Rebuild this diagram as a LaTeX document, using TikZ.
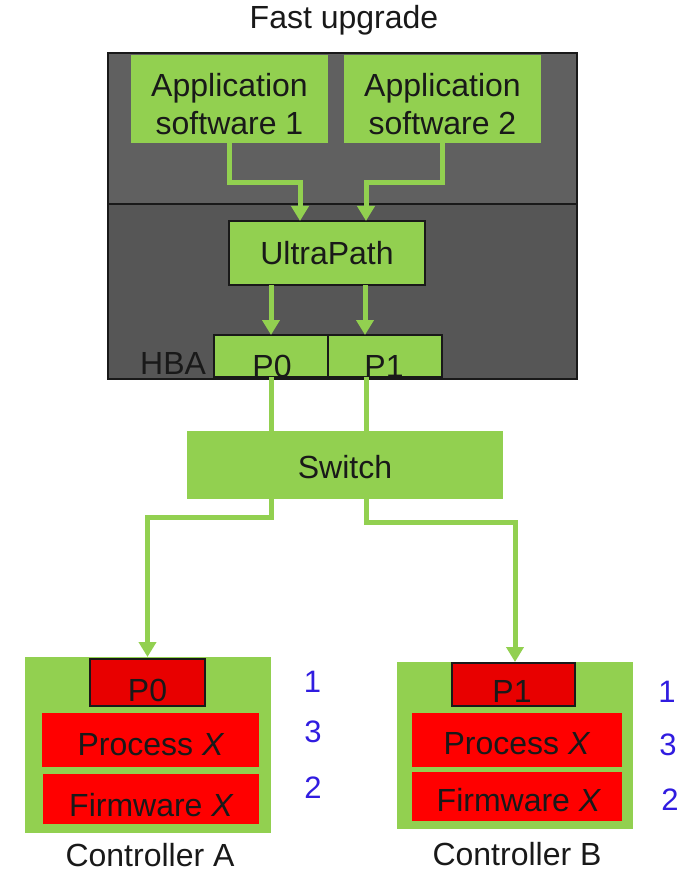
\documentclass[tikz,border=0pt]{standalone}
\usepackage{fontspec}
\setmainfont{Liberation Sans}
\usetikzlibrary{arrows.meta}
\definecolor{gr}{RGB}{146,208,80}
\definecolor{hostA}{RGB}{96,96,96}
\definecolor{hostB}{RGB}{86,86,86}
\definecolor{rdA}{RGB}{232,0,0}
\definecolor{rdB}{RGB}{255,0,0}
\definecolor{txt}{RGB}{25,25,25}
\definecolor{num}{RGB}{48,28,224}
\tikzset{
  box/.style={rectangle, inner sep=0pt, outer sep=0pt},
  gbox/.style={box, fill=gr},
  gboxd/.style={box, fill=gr, draw=txt, line width=1.2pt},
  rbox/.style={box, fill=rdB},
  rboxd/.style={box, fill=rdA, draw=txt, line width=1.2pt},
  lbl/.style={inner sep=0pt, anchor=base, text=txt, font=\fontsize{32}{38}\selectfont},
  numl/.style={inner sep=0pt, anchor=base, text=num, font=\fontsize{31}{34}\selectfont},
  conn/.style={draw=gr, line width=5pt, line join=miter},
  arr/.style={conn, -{Triangle[width=17pt,length=15pt]}},
}
\begin{document}
\begin{tikzpicture}[x=1pt,y=-1pt]
\useasboundingbox (0,0) rectangle (700,874);
% host
\node[box, fill=hostA, minimum width=469pt, minimum height=151pt] (hostU) at (342.5,128.5) {};
\node[box, fill=hostB, minimum width=469pt, minimum height=175pt] (hostL) at (342.5,291.5) {};
\draw[txt, line width=1.5pt] (hostU.north west) rectangle (hostL.south east);
\draw[txt, line width=1.2pt] (hostU.south west) -- (hostU.south east);
\node[lbl] (title) at (344,29) {Fast upgrade};
% apps
\node[gbox, minimum width=197pt, minimum height=88pt] (app1) at (229.5,99) {};
\node[gbox, minimum width=197pt, minimum height=88pt] (app2) at (442.5,99) {};
\node[lbl] (a1t1) at (229.5,97) {Application};
\node[lbl] (a1t2) at (229.5,135) {software 1};
\node[lbl] (a2t1) at (442.5,97) {Application};
\node[lbl] (a2t2) at (442.5,135) {software 2};
% ultrapath
\node[gboxd, minimum width=196pt, minimum height=64pt] (up) at (327,253) {};
\node[lbl] (upt) at (327,265) {UltraPath};
% HBA
\node[gboxd, minimum width=114pt, minimum height=42pt] (hp0) at (271,356) {};
\node[gboxd, minimum width=114pt, minimum height=42pt] (hp1) at (385,356) {};
\node[lbl, anchor=base west] (hba) at (140,374) {HBA};
\node[lbl] (hp0t) at (272,377) {P0};
\node[lbl] (hp1t) at (384,377) {P1};
% switch
\node[gbox, minimum width=316pt, minimum height=68pt] (sw) at (345,465) {};
\node[lbl] (swt) at (345,478) {Switch};
% controller A
\node[gbox, minimum width=246pt, minimum height=176pt] (ca) at (148,745) {};
\node[rboxd, minimum width=115pt, minimum height=47pt] (cap0) at (147.5,682.5) {};
\node[rbox, minimum width=217pt, minimum height=54pt] (capr) at (150.5,740) {};
\node[rbox, minimum width=216pt, minimum height=50pt] (cafw) at (151,799) {};
\node[lbl] (cap0t) at (147.5,701) {P0};
\node[lbl] (caprt) at (151,755) {Process \textit{X}};
\node[lbl] (cafwt) at (151.5,816) {Firmware \textit{X}};
\node[lbl] (cat) at (150,866) {Controller A};
\node[numl] (na1) at (312.5,692) {1};
\node[numl] (na3) at (313,742) {3};
\node[numl] (na2) at (313,798) {2};
% controller B
\node[gbox, minimum width=236pt, minimum height=167pt] (cb) at (515,745.5) {};
\node[rboxd, minimum width=123pt, minimum height=43pt] (cbp1) at (513.5,684.5) {};
\node[rbox, minimum width=210pt, minimum height=54pt] (cbpr) at (517,740) {};
\node[rbox, minimum width=210pt, minimum height=49pt] (cbfw) at (517,796.5) {};
\node[lbl] (cbp1t) at (512,702) {P1};
\node[lbl] (cbprt) at (517,754) {Process \textit{X}};
\node[lbl] (cbfwt) at (519,811) {Firmware \textit{X}};
\node[lbl] (cbt) at (517,865) {Controller B};
\node[numl] (nb1) at (667,702) {1};
\node[numl] (nb3) at (668,755) {3};
\node[numl] (nb2) at (670,810) {2};
% connector points
\coordinate (upin1) at ([xshift=-27pt]up.north);
\coordinate (upin2) at ([xshift=39pt]up.north);
\coordinate (hp1in) at ([xshift=-20pt]hp1.north);
\coordinate (hp1out) at ([xshift=-19pt]hp1.south);
\coordinate (tA) at (cap0.north |- ca.north);
\coordinate (tB) at (cb.north);
% connectors
\draw[arr] (app1.south) -- ++(0,40) -| (upin1);
\draw[arr] (app2.south) -- ++(0,40) -| (upin2);
\draw[arr] (up.south -| hp0.north) -- (hp0.north);
\draw[arr] (up.south -| hp1in) -- (hp1in);
\draw[conn] (hp0.south) -- (hp0.south |- sw.north);
\draw[conn] (hp1out) -- (hp1out |- sw.north);
\draw[arr] (sw.south -| hp0.south) -- ++(0,18) -| (tA);
\draw[arr] (sw.south -| hp1out) -- ++(0,23) -| (tB);
\end{tikzpicture}
\end{document}
